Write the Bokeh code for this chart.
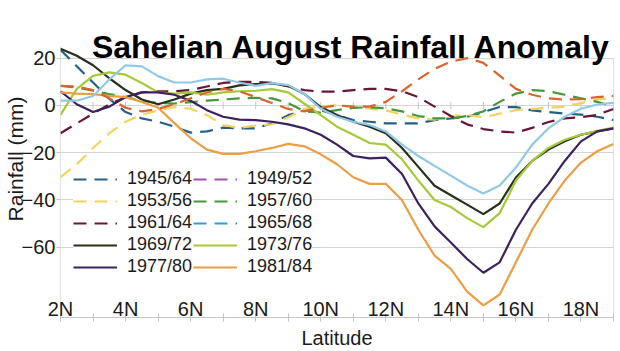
import math
from bokeh.plotting import figure
from bokeh.models import (Legend, LegendItem, Range1d, FixedTicker, Label,
                          ColumnDataSource)
from bokeh.embed import file_html
from bokeh.resources import INLINE

# ---------------- data ----------------
lat = [2, 2.5, 3, 3.5, 4, 4.5, 5, 5.5, 6, 6.5, 7, 7.5, 8, 8.5, 9, 9.5, 10, 10.5,
       11, 11.5, 12, 12.5, 13, 13.5, 14, 14.5, 15, 15.5, 16, 16.5, 17, 17.5, 18, 18.5, 19]

NA = float("nan")
p1945_64 = [23.5, 16.6, 9.7, 2.8, -2.8, -5.5, -6.9, -9, -11.5, -11, -9.4, -9.7, -9.7, -7.6, -4.1, -2.1, -2.1, -4.1,
            -6.2, -6.9, -7.6, -7.6, -7.6, -6.2, -5.5, -4.8, -2.8, -0.7, -0.7, -2.1, -2.8, -3.5, -3.9, -4.8, -6.2]
p1949_52 = [NA] * len(lat)   # not visible in the chart
p1953_56 = [-30.4, -24.9, -18, -11.8, -6.9, -3.9, -2.1, -0.7, -1.4, -4.1, -8.3, -9.5, -8.5, -8, -5, -1.5, -0.5, 0,
            -0.5, -1.4, -2.1, -3.9, -5.5, -6, -4.5, -4, -5, -3.5, -2, -1.5, -1, -0.5, 1, 2.5, 3]
p1957_60 = [8.3, 7.6, 6.2, 4.8, 3.5, 2, 1, 0.8, 1.4, 2, 2.5, 3, 3.2, 3, 1, -2.5, -3, -2,
            -1, -0.8, -1.2, -2.5, -4.5, -5.5, -5.5, -4.5, -2.5, 1.5, 5, 6.5, 6, 4.5, 3, 1.5, -0.5]
p1961_64 = [-11.8, -7.6, -3.5, 0.5, 3.5, 5.5, 6, 6, 6.5, 8, 9.5, 10, 10, 9.5, 8, 6.5, 5.8, 5.8,
            6.5, 7, 7, 6, 3.5, -0.5, -4.5, -8, -10, -11, -11.5, -9.5, -7, -5.5, -5, -4, -1.5]
p1965_68 = [NA] * len(lat)   # not visible in the chart
p1969_72 = [24, 21, 17, 11.5, 6.5, 2.5, 0.5, 2.5, 5, 6.5, 7, 8.5, 9, 9.3, 8.3, 4.8, -0.7, -4.1,
            -6.9, -9, -11.8, -18, -26, -34, -38, -42, -46, -41.5, -30.5, -23.5, -18.7, -15.2, -12.4, -11, -9.7]
p1973_76 = [-4, 7, 12.5, 14, 13, 9.5, 5.5, 5, 5.5, 4.5, 5.5, 6, 6.2, 6.9, 5.5, 0.7, -4.1, -9,
            -12.4, -15.9, -16.6, -22.8, -31.8, -40, -43, -47.7, -51.5, -45.6, -31.8, -23.5, -18, -14.5, -12.4, -10.8, -9.4]
p1977_80 = [6, 0.5, -2.8, -0.5, 3.5, 5.5, 5.5, 4.5, 2, -2, -4.8, -6, -6.2, -6.9, -8, -9.7, -12.4, -16.6,
            -21.4, -22.4, -22.1, -29, -41.5, -51.2, -58, -65, -70.8, -66.4, -52.6, -41.5, -33.2, -23.5, -15.2, -11, -9.7]
p1981_84 = [5.5, 5, 4.8, 4, 3.5, 1.5, -1, -7.5, -13.8, -18.7, -20.5, -20.5, -19.4, -18, -16.3, -17.3, -20.7, -24.9,
            -30.4, -33.2, -33.2, -40.1, -52.6, -63.6, -69.2, -78.8, -84.6, -80, -66.4, -52.6, -41.5, -31.8, -24.2, -19.4, -16.3]
# two further series drawn in the chart but not named in its legend
extra_dashed = [8.3, 8, 6.5, 3, -1, -2.5, -1.5, 0.5, 3, 5.5, 7, 6, 3.5, 1, -1.5, -2.5, -1, 0,
                -0.5, -0.5, 1.5, 6, 11, 15.5, 18.5, 20, 18, 12.6, 7, 4.5, 3, 2.5, 2.7, 3.5, 4]
extra_solid = [2, 2, 4, 11, 17, 16.5, 12.4, 9.7, 9.7, 11, 11.3, 9.7, 8.3, 9.4, 8.6, 4.8, -1.4, -4.8,
               -6.9, -8.3, -11, -16.6, -21.4, -25.6, -29.7, -33.9, -37.3, -33.9, -26.3, -16.6, -9.7, -4.8, -1.4, 0.4, 1.1]

series_names = ["1945/64", "1949/52", "1953/56", "1957/60", "1961/64",
                "1965/68", "1969/72", "1973/76", "1977/80", "1981/84"]
series_values = [p1945_64, p1949_52, p1953_56, p1957_60, p1961_64,
                 p1965_68, p1969_72, p1973_76, p1977_80, p1981_84]
series_colors = ["#22608a", "#a44fb6", "#f2d35e", "#43993b", "#6a1538",
                 "#2aa0dc", "#26301a", "#a6c93a", "#3c205f", "#eb9f45"]
series_dashed = [True, True, True, True, True, True, False, False, False, False]

x_ticks = list(range(2, 20))
x_tick_labels = {t: (f"{t}N" if t % 2 == 0 else "") for t in x_ticks}
y_ticks = [-60, -40, -20, 0, 20]
y_min, y_top, y_max = -89.75, 25, 44.4

# ---------------- figure ----------------
p = figure(width=620, height=351, x_range=Range1d(lat[0], lat[-1]), y_range=Range1d(y_min, y_max),
           output_backend="svg", toolbar_location=None,
           min_border_left=57, min_border_right=7, min_border_top=0, min_border_bottom=28)
p.outline_line_color = None
p.background_fill_color = "white"
p.border_fill_color = "white"

FONT = "Liberation Sans"
GRID = "#d3d3d3"
AXC = "#c4c4c4"

p.xgrid.grid_line_color = None
p.ygrid.ticker = FixedTicker(ticks=y_ticks)
p.ygrid.grid_line_color = GRID

xa = p.xaxis[0]
xa.ticker = FixedTicker(ticks=x_ticks)
xa.major_label_overrides = x_tick_labels
xa.axis_line_color = AXC
xa.major_tick_line_color = AXC
xa.major_tick_in = 4
xa.major_tick_out = 4
xa.minor_tick_line_color = None
xa.major_label_text_font = FONT
xa.major_label_text_font_size = "20px"
xa.major_label_text_color = "#1a1a1a"
xa.major_label_standoff = -24
xa.axis_label = "Latitude"
xa.axis_label_text_font = FONT
xa.axis_label_text_font_size = "20px"
xa.axis_label_text_font_style = "normal"
xa.axis_label_text_color = "#1a1a1a"
xa.axis_label_standoff = 4

ya = p.yaxis[0]
ya.ticker = FixedTicker(ticks=y_ticks)
ya.axis_line_color = None
ya.major_tick_line_color = AXC
ya.major_tick_in = 0
ya.major_tick_out = 4
ya.minor_tick_line_color = None
ya.major_label_text_font = FONT
ya.major_label_text_font_size = "20px"
ya.major_label_text_color = "#1a1a1a"
ya.major_label_standoff = 1
ya.axis_label = "Rainfall (mm)"
ya.axis_label_text_font = FONT
ya.axis_label_text_font_size = "21px"
ya.axis_label_text_font_style = "normal"
ya.axis_label_text_color = "#1a1a1a"
ya.axis_label_standoff = -8

# left axis line, right border and tick marks on the zero line
p.segment(x0=[lat[0]], y0=[y_min], x1=[lat[0]], y1=[y_top], line_color=AXC, line_width=1)
p.segment(x0=[lat[-1]], y0=[y_min], x1=[lat[-1]], y1=[y_ticks[-1]], line_color=AXC, line_width=1)
p.scatter(x=x_ticks, y=[0] * len(x_ticks), marker="dash", angle=math.pi / 2, size=7,
          line_color=AXC, line_width=1)

DASH = "13 8"
items = []
for name, vals, col, dashed in zip(series_names, series_values, series_colors, series_dashed):
    src = ColumnDataSource(dict(x=lat, y=vals))
    r = p.line("x", "y", source=src, line_color=col, line_width=2.2,
               line_dash=DASH if dashed else "solid")
    items.append(LegendItem(label=name, renderers=[r]))

p.line(lat, extra_dashed, line_color="#d9642d", line_width=2.2, line_dash=DASH)
p.line(lat, extra_solid, line_color="#90c9e8", line_width=2.2)

# legend is laid out column by column: put the entries so that rows read pairwise
legend_items = items[0::2] + items[1::2]
legend = Legend(items=legend_items, ncols=2, location=(13, 40),
                background_fill_color="white", background_fill_alpha=1.0,
                border_line_color=None, padding=3, margin=0, spacing=1,
                glyph_width=44, glyph_height=20, label_height=20, label_standoff=10,
                label_text_font=FONT, label_text_font_size="18px", label_text_color="#1a1a1a")
p.add_layout(legend, "center")

title = Label(x=291, y=271, x_units="screen", y_units="screen",
              text="Sahelian August Rainfall Anomaly", text_font=FONT,
              text_font_style="bold", text_font_size="32px", text_align="center",
              text_baseline="alphabetic", text_color="#000000")
p.add_layout(title)

open("out.html", "w").write(file_html(p, INLINE))
